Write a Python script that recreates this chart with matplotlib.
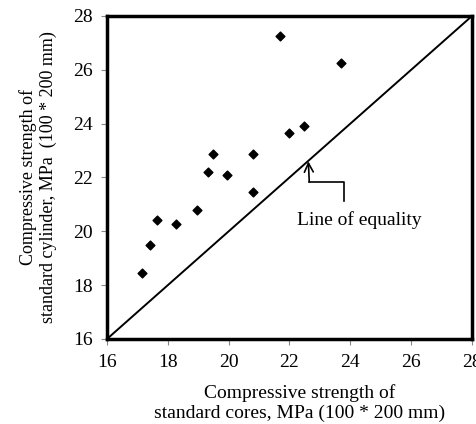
import matplotlib
matplotlib.use("Agg")
import matplotlib.pyplot as plt

plt.rcParams['font.family'] = ['Liberation Serif', 'DejaVu Serif']

# Core strength (x) vs cylinder strength (y), MPa
cores = [17.16, 17.40, 17.66, 18.26, 18.97, 19.32, 19.47, 19.93, 20.79, 20.79,
         21.70, 22.00, 22.47, 23.68]
cylinders = [18.44, 19.49, 20.41, 20.27, 20.78, 22.22, 22.88, 22.10, 22.88, 21.45,
             27.26, 23.65, 23.92, 26.25]

ticks = [16, 18, 20, 22, 24, 26, 28]
equality = [16, 28]

fig = plt.figure(figsize=(4.77, 4.24), dpi=100)
ax = fig.add_axes([0.2243, 0.2005, 0.7652, 0.7618])

ax.plot(equality, equality, color='black', linewidth=1.4)
ax.scatter(cores, cylinders, marker='D', s=20, color='black', zorder=3)

# bent arrow pointing at the line of equality
ax.plot([23.78, 23.78, 22.65], [21.12, 21.85, 21.85], color='black', linewidth=1.2)
ax.annotate('', xy=(22.62, 22.6), xytext=(22.65, 21.84),
            arrowprops=dict(arrowstyle='->', color='black', lw=1.2,
                            mutation_scale=16, shrinkA=0, shrinkB=0))
ax.text(24.31, 20.42, 'Line of equality', ha='center', va='center', fontsize=14)

ax.set_xlim(16, 28)
ax.set_ylim(16, 28)
ax.set_xticks(ticks)
ax.set_yticks(ticks)
ax.tick_params(direction='out', length=4, color='#888888', labelsize=14)
ax.tick_params(axis='x', pad=7)
ax.tick_params(axis='y', pad=6)
for sp in ax.spines.values():
    sp.set_linewidth(2.5)
    sp.set_color('black')

ax.set_xlabel('Compressive strength of\nstandard cores, MPa (100 * 200 mm)',
              fontsize=14, linespacing=1.2)
ax.xaxis.set_label_coords(0.528, -0.14)
ax.set_ylabel('Compressive strength of\nstandard cylinder, MPa  (100 * 200 mm)',
              fontsize=13, labelpad=12, linespacing=1.2)

fig.savefig('out.png', dpi=100)
